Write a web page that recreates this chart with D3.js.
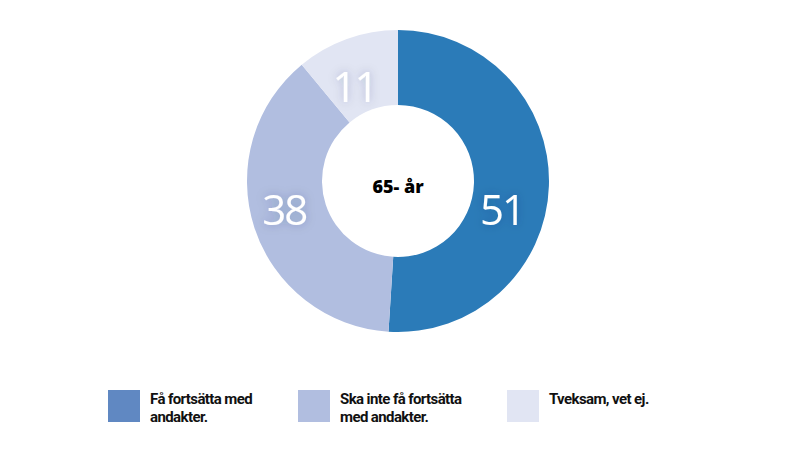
<!DOCTYPE html>
<html>
<head>
<meta charset="utf-8">
<script src="https://cdn.jsdelivr.net/npm/d3@7"></script>
<style>
  html, body { margin: 0; padding: 0; background: #fff; }
</style>
</head>
<body>
<div id="chart"></div>
<script>
// data
const categories = ["Få fortsätta med andakter.", "Ska inte få fortsätta med andakter.", "Tveksam, vet ej."];
const legendLines = [["Få fortsätta med", "andakter."], ["Ska  inte få fortsätta", "med andakter."], ["Tveksam, vet ej."]];
const values = [51, 38, 11];
const centerLabel = "65- år";

const sliceColors = ["#2b7bb8", "#b1bee0", "#e1e5f3"];
const legendColors = ["#6088c2", "#b1bee0", "#e1e5f3"];

const width = 800, height = 450;
const cx = 398, cy = 181;
const outerR = 151, innerR = 76;

const svg = d3.select("#chart")
    .append("svg")
    .attr("width", width)
    .attr("height", height);

// soft shadow behind the big numbers
const defs = svg.append("defs");
const filter = defs.append("filter")
    .attr("id", "glow")
    .attr("x", "-50%").attr("y", "-50%")
    .attr("width", "200%").attr("height", "200%");
filter.append("feDropShadow")
    .attr("dx", 0).attr("dy", 0)
    .attr("stdDeviation", 5)
    .attr("flood-color", "#1c2f5a")
    .attr("flood-opacity", 0.25);

const pie = d3.pie().sort(null).value(d => d);
const arcs = pie(values);

const arc = d3.arc().innerRadius(innerR).outerRadius(outerR);
const labelArc = d3.arc().innerRadius(108).outerRadius(108);

const g = svg.append("g")
    .attr("transform", `translate(${cx}, ${cy})`);

g.selectAll("path.slice")
    .data(arcs)
    .join("path")
    .attr("class", "slice")
    .attr("d", arc)
    .attr("fill", (d, i) => sliceColors[i]);

// small nudges so the numbers sit where the original puts them
const nudge = [[-4, 24], [-11, -6], [-7, 6]];

g.selectAll("text.val")
    .data(arcs)
    .join("text")
    .attr("class", "val")
    .attr("transform", (d, i) => {
        const c = labelArc.centroid(d);
        return `translate(${c[0] + nudge[i][0]}, ${c[1] + nudge[i][1]})`;
    })
    .attr("text-anchor", "middle")
    .attr("dominant-baseline", "central")
    .attr("filter", "url(#glow)")
    .style("font-family", "'Open Sans', sans-serif")
    .style("font-weight", 400)
    .style("font-size", "42px")
    .style("letter-spacing", "-2px")
    .style("fill", "#fff")
    .text(d => d.data);

g.append("text")
    .attr("x", 0)
    .attr("y", 5)
    .attr("text-anchor", "middle")
    .attr("dominant-baseline", "central")
    .style("font-family", "'Open Sans', sans-serif")
    .style("font-weight", 800)
    .style("font-size", "18px")
    .style("fill", "#000")
    .text(centerLabel);

// legend
const legendX = d3.scaleOrdinal()
    .domain(categories)
    .range([108, 298, 507]);

const legend = svg.append("g")
    .selectAll("g")
    .data(categories)
    .join("g")
    .attr("transform", d => `translate(${legendX(d)}, 390)`);

legend.append("rect")
    .attr("width", 32)
    .attr("height", 32)
    .attr("fill", (d, i) => legendColors[i]);

legend.append("text")
    .attr("x", 42)
    .attr("y", 14)
    .style("font-family", "Roboto, sans-serif")
    .style("font-weight", 700)
    .style("font-size", "15px")
    .style("letter-spacing", "-0.6px")
    .style("fill", "#111")
    .selectAll("tspan")
    .data((d, i) => legendLines[i])
    .join("tspan")
    .attr("x", 42)
    .attr("dy", (d, i) => i === 0 ? 0 : 18)
    .text(d => d);
</script>
</body>
</html>
